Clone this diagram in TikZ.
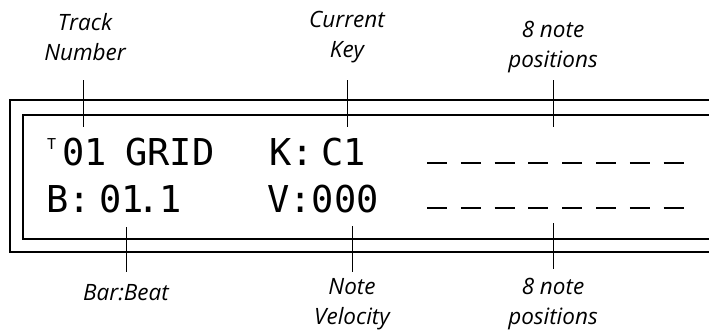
\documentclass[tikz,border=0pt]{standalone}
\usepackage{fontspec}
\newfontfamily\lcdfont{DejaVu Sans Mono}
\newfontfamily\labelfont{Open Sans}
\usetikzlibrary{positioning}

\begin{document}
\begin{tikzpicture}[x=1pt, y=-1pt,
  lbl/.style={font=\labelfont\itshape\fontsize{22.5}{30}\selectfont, align=center, inner sep=0pt},
  lcd/.style={font=\lcdfont\fontsize{37}{40}\selectfont, anchor=base west, inner sep=0pt},
  framing/.style={line width=2.6pt},
  callout/.style={line width=0.9pt},
  blank/.style={line width=2.2pt}]
  \useasboundingbox (0,0) rectangle (709,332);
  % Display frame (open to the right)
  \draw[framing] (709,100) -- (10,100) -- (10,252) -- (709,252);
  \draw[framing] (709,115) -- (23,115) -- (23,239) -- (709,239);
  % Top row of the display
  \node[font=\lcdfont\fontsize{15}{15}\selectfont, anchor=north west, inner sep=0pt] (tsup) at (47,138) {T};
  \node[lcd] (trknum) at (62,165) {01};
  \node[lcd] (grid)   at (125,165) {GRID};
  \node[lcd] (keyk)   at (269,165) {K:};
  \node[lcd] (keyc)   at (321,165) {C1};
  % Bottom row of the display
  \node[lcd] (barb)   at (46,212) {B:};
  \node[lcd] (bar)    at (99,212) {01};
  \node[lcd] (bardot) at (137,212) {.};
  \node[lcd] (beat)   at (159,212) {1};
  \node[lcd] (vel)    at (267,212) {V:000};
  % Note positions
  \foreach \i in {0,...,7} {
    \draw[blank] ({427+33.8*\i},163) -- ({447+33.8*\i},163);
    \draw[blank] ({427+33.8*\i},208) -- ({447+33.8*\i},208);
  }
  % Labels above
  \node[lbl] (track) at (85,37) {Track\\Number};
  \node[lbl] (curkey) at (347,37) {Current\\Key};
  \node[lbl] (notestop) at (553,47) {8 note\\positions};
  % Labels below
  \node[lbl] (barbeat) at (126,293) {Bar:Beat};
  \node[lbl] (notevel) at (352,304) {Note\\Velocity};
  \node[lbl] (notesbot) at (553,304) {8 note\\positions};
  % Callout ends
  \coordinate (trackA) at (83,80);   \coordinate (trackB) at (83,127);
  \coordinate (keyA) at (347,80);    \coordinate (keyB) at (347,127);
  \coordinate (topA) at (553,80);    \coordinate (topB) at (553,127);
  \coordinate (barA) at (126,227);   \coordinate (barB) at (126,272);
  \coordinate (velA) at (352,226);   \coordinate (velB) at (352,272);
  \coordinate (botA) at (553,223);   \coordinate (botB) at (553,269);
  % Callout lines
  \draw[callout] (trackA) -- (trackB);
  \draw[callout] (keyA) -- (keyB);
  \draw[callout] (topA) -- (topB);
  \draw[callout] (barA) -- (barB);
  \draw[callout] (velA) -- (velB);
  \draw[callout] (botA) -- (botB);
\end{tikzpicture}
\end{document}
